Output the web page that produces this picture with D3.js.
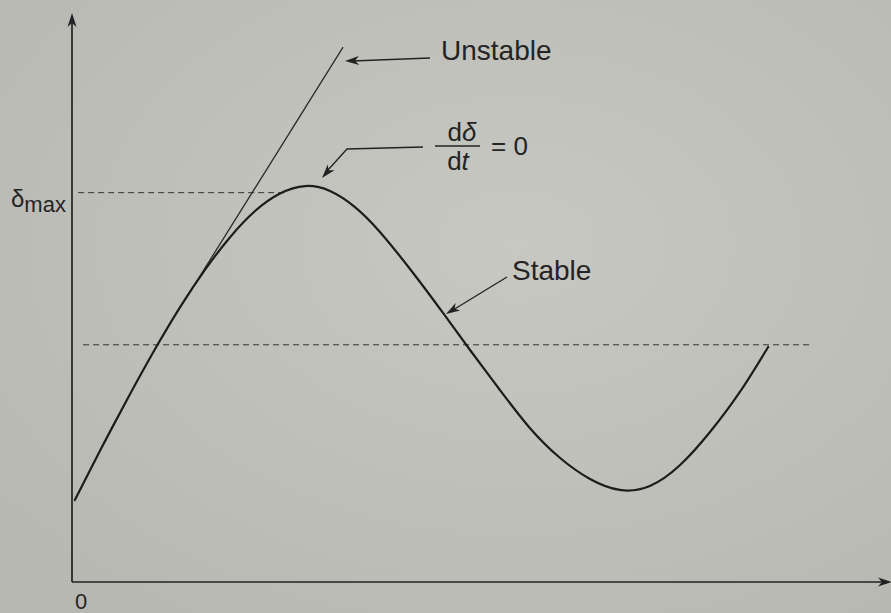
<!DOCTYPE html>
<html>
<head>
<meta charset="utf-8">
<script src="https://cdn.jsdelivr.net/npm/d3@7"></script>
<style>
  html, body { margin: 0; padding: 0; background: #c1c1bc; }
  svg { display: block; }
  text { font-family: "Liberation Sans", Arial, Helvetica, sans-serif; fill: #242424; }
</style>
</head>
<body>
<svg id="chart" width="891" height="613"></svg>
<script>
// Rotor angle swing after a disturbance: time t (s) vs rotor angle δ (deg)
const stableT     = [0.007, 0.068, 0.134, 0.198, 0.264, 0.325, 0.386, 0.447, 0.508, 0.569, 0.630, 0.691, 0.752, 0.833, 0.906, 0.972, 1.045, 1.118, 1.192, 1.265, 1.338, 1.411, 1.485, 1.558, 1.631, 1.700];
const stableDelta = [8.68, 13.86, 19.26, 24.28, 29.08, 33.05, 36.49, 39.26, 41.11, 41.90, 41.38, 39.68, 37.04, 32.70, 28.47, 24.55, 20.32, 16.30, 13.12, 10.90, 9.74, 10.16, 12.38, 15.87, 20.11, 24.87];

// Unstable swing: angle keeps increasing
const unstableT     = [0.276, 0.662];
const unstableDelta = [29.84, 56.6];

// Reference levels
const deltaMax     = 41.2;
const deltaMaxT    = [0.015, 0.52];
const deltaSteady  = 25.1;
const deltaSteadyT = [0.027, 1.81];

const labels = {
  unstable: "Unstable",
  stable: "Stable",
  origin: "0"
};

const svg = d3.select("#chart");
const W = 891, H = 613;

// paper tone
const defs = svg.append("defs");
const grad = defs.append("radialGradient").attr("id", "paper")
  .attr("cx", "58%").attr("cy", "40%").attr("r", "75%");
grad.append("stop").attr("offset", "0%").attr("stop-color", "#c8c8c3");
grad.append("stop").attr("offset", "100%").attr("stop-color", "#b8b8b3");
svg.append("rect").attr("width", W).attr("height", H).attr("fill", "url(#paper)");

const x = d3.scaleLinear().domain([0, 2.0]).range([72, 891]);
const y = d3.scaleLinear().domain([0, 60]).range([582, 15]);

const ink = "#222";

// arrowhead helper: tip at (tx,ty), pointing away from (fx,fy)
function arrowHead(g, fx, fy, tx, ty, len = 14, half = 4.5) {
  const a = Math.atan2(ty - fy, tx - fx);
  const c = Math.cos(a), s = Math.sin(a);
  const bx = tx - len * c, by = ty - len * s;
  const nx = tx - len * 0.72 * c, ny = ty - len * 0.72 * s;
  const p = [
    [tx, ty],
    [bx - half * s, by + half * c],
    [nx, ny],
    [bx + half * s, by - half * c]
  ];
  g.append("path").attr("d", "M" + p.map(d => d.join(",")).join("L") + "Z").attr("fill", ink);
}

// axes
const xAxis = d3.axisBottom(x).tickValues([]).tickSizeOuter(0);
const yAxis = d3.axisLeft(y).tickValues([]).tickSizeOuter(0);
const gx = svg.append("g").attr("transform", `translate(0,${y(0)})`).call(xAxis);
const gy = svg.append("g").attr("transform", `translate(${x(0)},0)`).call(yAxis);
[gx, gy].forEach(g => g.select(".domain").attr("stroke", ink).attr("stroke-width", 1.7));
gy.select(".domain").attr("d", `M0,${y(0)}V${y(60) + 8}`);
gx.select(".domain").attr("d", `M${x(0)},0H${x(2.0) - 8}`);
const axG = svg.append("g");
arrowHead(axG, x(0), y(0), x(0), y(60) - 2, 14, 4.5);
arrowHead(axG, x(0), y(0), x(2.0) + 1, y(0), 14, 4.5);

// dashed reference lines
const dashG = svg.append("g").attr("stroke", "#333").attr("stroke-width", 1).attr("stroke-dasharray", "6,4").attr("fill", "none");
dashG.append("line")
  .attr("x1", x(deltaMaxT[0])).attr("x2", x(deltaMaxT[1]))
  .attr("y1", y(deltaMax)).attr("y2", y(deltaMax));
dashG.append("line")
  .attr("x1", x(deltaSteadyT[0])).attr("x2", x(deltaSteadyT[1]))
  .attr("y1", y(deltaSteady)).attr("y2", y(deltaSteady));

// unstable swing line
svg.append("line")
  .attr("x1", x(unstableT[0])).attr("y1", y(unstableDelta[0]))
  .attr("x2", x(unstableT[1])).attr("y2", y(unstableDelta[1]))
  .attr("stroke", "#2a2a2a").attr("stroke-width", 1.3);

// stable swing curve
const stableData = stableT.map((t, i) => ({ t, d: stableDelta[i] }));
const line = d3.line().x(p => x(p.t)).y(p => y(p.d)).curve(d3.curveNatural);
svg.append("path").datum(stableData).attr("d", line)
  .attr("fill", "none").attr("stroke", "#1c1c1c").attr("stroke-width", 2.2)
  .attr("stroke-linecap", "round");

// annotations
const ann = svg.append("g").attr("stroke", ink).attr("stroke-width", 1.3).attr("fill", "none");
// Unstable
ann.append("line").attr("x1", 430).attr("y1", 58).attr("x2", 352).attr("y2", 61);
arrowHead(svg, 430, 58, 345, 61);
svg.append("text").attr("x", 441).attr("y", 60).attr("font-size", 28).text(labels.unstable);

// dδ/dt = 0
ann.append("path").attr("d", "M423,147L347,149L328,170");
arrowHead(svg, 347, 149, 322, 178);
const frac = svg.append("g").attr("font-size", 26);
const num = frac.append("text").attr("x", 462).attr("y", 141).attr("text-anchor", "middle");
num.append("tspan").text("d");
num.append("tspan").attr("font-style", "italic").text("δ");
svg.append("line").attr("x1", 435).attr("x2", 480).attr("y1", 146).attr("y2", 146)
  .attr("stroke", ink).attr("stroke-width", 1.3);
const den = frac.append("text").attr("x", 458).attr("y", 170).attr("text-anchor", "middle");
den.append("tspan").text("d");
den.append("tspan").attr("font-style", "italic").text("t");
frac.append("text").attr("x", 491).attr("y", 155).text("= 0");

// Stable
ann.append("line").attr("x1", 507).attr("y1", 277).attr("x2", 453).attr("y2", 310);
arrowHead(svg, 507, 277, 446, 314);
svg.append("text").attr("x", 512).attr("y", 280).attr("font-size", 28).text(labels.stable);

// δmax label
const dm = svg.append("text").attr("x", 11).attr("y", y(deltaMax) + 14);
dm.append("tspan").attr("font-size", 24).text("δ");
dm.append("tspan").attr("font-size", 22).attr("dy", 5).text("max");

// origin label
svg.append("text").attr("x", 81).attr("y", 609).attr("text-anchor", "middle").attr("font-size", 22).text(labels.origin);
</script>
</body>
</html>
